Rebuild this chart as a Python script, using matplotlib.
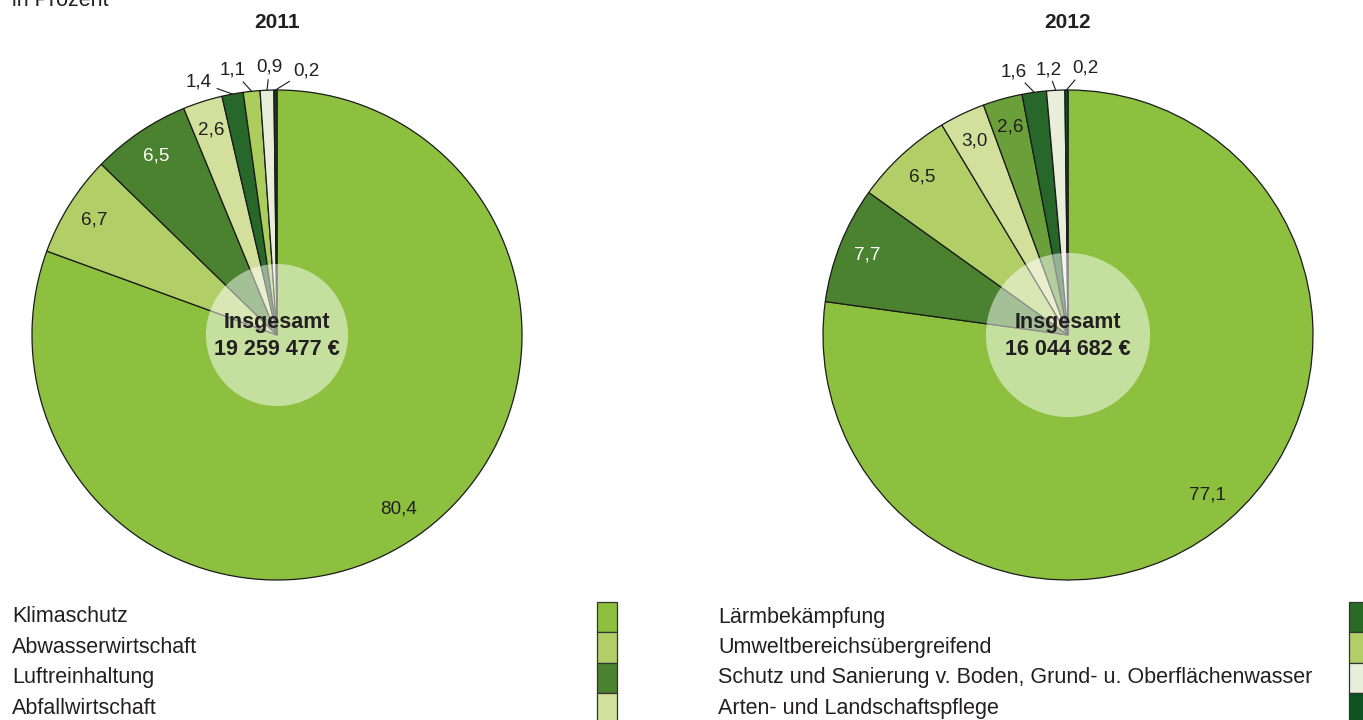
import matplotlib
matplotlib.use("Agg")
import matplotlib.pyplot as plt
from matplotlib.patches import Circle, Rectangle
import numpy as np

plt.rcParams['font.family'] = ['Liberation Sans', 'DejaVu Sans']

# ---------------- data ----------------
years = ["2011", "2012"]
totals = ["19 259 477 €", "16 044 682 €"]

values_2011 = [80.4, 6.7, 6.5, 2.6, 1.4, 1.1, 0.9, 0.2]
values_2012 = [77.1, 7.7, 6.5, 3.0, 2.6, 1.6, 1.2, 0.2]

colors_2011 = ["#8cc03e", "#b2cf67", "#4a822f", "#d3e09b", "#27682a", "#abcd5c", "#e9eedb", "#163d1f"]
colors_2012 = ["#8cc03e", "#4a822f", "#b2cf67", "#d3e09b", "#6a9f3a", "#27682a", "#e9eedb", "#0d5220"]

legend_left = ["Klimaschutz", "Abwasserwirtschaft", "Luftreinhaltung", "Abfallwirtschaft"]
legend_left_colors = ["#8cc03e", "#b2cf67", "#4a822f", "#d3e09b"]
legend_right = ["Lärmbekämpfung", "Umweltbereichsübergreifend",
                "Schutz und Sanierung v. Boden, Grund- u. Oberflächenwasser",
                "Arten- und Landschaftspflege"]
legend_right_colors = ["#2a6a27", "#b2cf67", "#e9eedb", "#0d5220"]

# ---------------- style / layout ----------------
W, H = 1363, 720
fig = plt.figure(figsize=(W / 100, H / 100), dpi=100)
TXT = "#231f20"

# outside-label centre positions (pie units) for the small slices
out_pos_2011 = [(-0.32, 1.033), (-0.18, 1.08), (-0.03, 1.094), (0.12, 1.078)]
out_pos_2012 = [(-0.22, 1.075), (-0.08, 1.08), (0.07, 1.09)]
white_label_2011 = [False, False, True, False, False, False, False, False]
white_label_2012 = [False, True, False, False, False, False, False, False]

pies = [
    dict(cx=277, cy=335, r=245, vals=values_2011, cols=colors_2011, outpos=out_pos_2011,
         white=white_label_2011, inner=0.29, year=years[0], total=totals[0]),
    dict(cx=1068, cy=335, r=245, vals=values_2012, cols=colors_2012, outpos=out_pos_2012,
         white=white_label_2012, inner=0.335, year=years[1], total=totals[1]),
]


def fmt(v):
    return f"{v:.1f}".replace(".", ",")


for p in pies:
    cx, cy, r = p["cx"], p["cy"], p["r"]
    ax = fig.add_axes([(cx - r) / W, 1 - (cy + r) / H, 2 * r / W, 2 * r / H])
    wedges, _ = ax.pie(p["vals"], colors=p["cols"], startangle=90, counterclock=False,
                       wedgeprops=dict(edgecolor="#1a1a1a", linewidth=0.9), radius=1)
    ax.set_xlim(-1, 1)
    ax.set_ylim(-1, 1)
    ax.axis("off")
    k = 0
    for i, (w, v) in enumerate(zip(wedges, p["vals"])):
        mid = np.deg2rad((w.theta1 + w.theta2) / 2)
        if v >= 2.0:
            rr = 0.865 if v > 50 else 0.88
            ax.text(rr * np.cos(mid), rr * np.sin(mid), fmt(v), ha="center", va="center",
                    fontsize=13.6, color="white" if p["white"][i] else TXT)
        else:
            lx, ly = p["outpos"][k]
            k += 1
            ex, ey = np.cos(mid), np.sin(mid)
            f = 0.45
            ax.plot([ex, ex + f * (lx - ex)], [ey, ey + f * (ly - ey)],
                    color="#1a1a1a", lw=0.8, clip_on=False)
            ax.text(lx, ly, fmt(v), ha="center", va="center", fontsize=13.6, color=TXT,
                    clip_on=False)
    ax.add_patch(Circle((0, 0), p["inner"], facecolor="white", alpha=0.5, edgecolor="none",
                        zorder=5))
    ax.text(0, 0.049, "Insgesamt", ha="center", va="center", fontsize=15.5,
            fontweight="bold", color=TXT, zorder=6)
    ax.text(0, -0.061, p["total"], ha="center", va="center", fontsize=15.5,
            fontweight="bold", color=TXT, zorder=6)

# overlay in pixel coords
ov = fig.add_axes([0, 0, 1, 1], zorder=-1)
ov.set_xlim(0, W)
ov.set_ylim(H, 0)
ov.axis("off")

ov.text(12, 6, "in Prozent", ha="left", va="baseline", fontsize=15.5, color=TXT)
for p in pies:
    ov.text(p["cx"], 22, p["year"], ha="center", va="center", fontsize=15,
            fontweight="bold", color=TXT)

row_y = [617, 647.5, 678, 708.5]
sw_h = 30.5
for col_x, sw_x, labels, cols in [(12, 597, legend_left, legend_left_colors),
                                  (718, 1349, legend_right, legend_right_colors)]:
    for yy, lab, c in zip(row_y, labels, cols):
        ov.text(col_x, yy, lab, ha="left", va="center", fontsize=15.5, color=TXT)
        ov.add_patch(Rectangle((sw_x, yy - sw_h / 2), 20, sw_h, facecolor=c,
                               edgecolor="#333333", linewidth=0.9))

fig.savefig("out.png", dpi=100)
